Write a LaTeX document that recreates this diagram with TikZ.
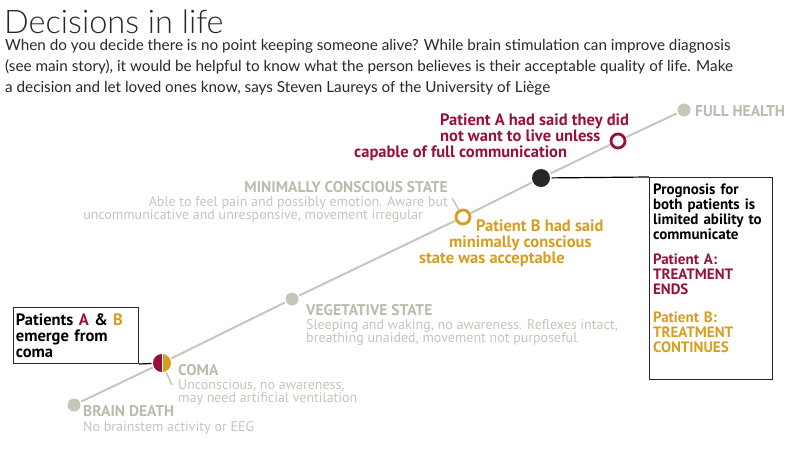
\documentclass[tikz,border=0pt]{standalone}
\usepackage{fontspec}
\setmainfont{Lato}
\newfontfamily\titlefont{Lato Light}
\newfontfamily\labelfont{PT Sans}
\usetikzlibrary{positioning}
\definecolor{acrimson}{RGB}{154,16,60}
\definecolor{bgold}{RGB}{214,158,30}
\definecolor{stategray}{RGB}{188,186,174}
\definecolor{descgray}{RGB}{198,196,186}
\definecolor{linegray}{RGB}{200,198,186}
\definecolor{bodygray}{RGB}{40,40,40}

\begin{document}
\begin{tikzpicture}[x=1pt, y=-1pt,
    stage/.style={circle, fill=linegray, minimum size=13pt, inner sep=0pt, outer sep=1.5pt},
    ring/.style={circle, draw=#1, line width=2.8pt, fill=white, minimum size=14pt, inner sep=0pt, outer sep=2pt},
    statetext/.style={font=\labelfont\fontsize{14}{13.5}\selectfont, text=descgray, inner sep=0pt},
    statename/.style={font=\labelfont\bfseries\fontsize{15.5}{14}\selectfont, text=stategray, inner sep=0pt},
    patienttext/.style={font=\labelfont\bfseries\fontsize{16.5}{15.8}\selectfont, text=#1, inner sep=0pt},
    boxtext/.style={font=\labelfont\bfseries\fontsize{15}{15}\selectfont, text=black, draw=black!85, line width=1.2pt, align=left}]
    \useasboundingbox (0,0) rectangle (800,469);

    \node[anchor=base west, inner sep=0pt, text=bodygray, font=\titlefont\fontsize{32.5}{34}\selectfont] (title) at (4,33) {Decisions in life};
    \node[anchor=north west, inner sep=0pt, text=bodygray, align=left, font=\fontsize{15.25}{21}\selectfont] (intro) at (5,39)
        {When do you decide there is no point keeping someone alive? While brain stimulation can improve diagnosis\\
         (see main story), it would be helpful to know what the person believes is their acceptable quality of life. Make\\
         a decision and let loved ones know, says Steven Laureys of the University of Li\`ege};

    \node[stage] (bd) at (74,405) {};
    \node[stage, minimum size=18pt] (coma) at (162,363) {};
    \node[stage] (veg) at (292,299) {};
    \node[ring=bgold] (pb) at (463,217) {};
    \node[circle, fill=black!85, minimum size=18pt, inner sep=0pt, outer sep=1.5pt] (prog) at (541,178) {};
    \node[ring=acrimson] (pa) at (618,141) {};
    \node[stage] (fh) at (684,110) {};

    \begin{scope}
        \clip (150,350) rectangle (162,376);
        \fill[acrimson] (coma.center) circle[radius=9pt];
    \end{scope}
    \begin{scope}
        \clip (162,350) rectangle (174,376);
        \fill[bgold] (coma.center) circle[radius=9pt];
    \end{scope}
    \draw[white, line width=0.8pt] (coma.north) -- (coma.south);

    \draw[linegray, line width=2pt] (bd) -- (coma) -- (veg) -- (pb) -- (prog) -- (pa) -- (fh);

    \node[statename, anchor=west] (fhname) at (695,111) {FULL HEALTH};
    \node[statetext, anchor=north east, align=right] (mcs) at (448,181)
        {{\fontsize{15.5}{14}\selectfont\bfseries\color{stategray}MINIMALLY CONSCIOUS STATE}\\[0.5pt]
         Able to feel pain and possibly emotion. Aware but\hspace*{3pt}\\
         uncommunicative and unresponsive, movement irregular\hspace*{25pt}};
    \node[statetext, anchor=north west, align=left] (vegname) at (306,304)
        {{\fontsize{15.5}{14}\selectfont\bfseries\color{stategray}VEGETATIVE STATE}\\[0.5pt]
         Sleeping and waking, no awareness. Reflexes intact,\\
         breathing unaided, movement not purposeful};
    \node[statetext, anchor=north west, align=left] (comaname) at (178,364)
        {{\fontsize{15.5}{14}\selectfont\bfseries\color{stategray}COMA}\\[0.5pt]
         Unconscious, no awareness,\\
         may need artificial ventilation};
    \node[statetext, anchor=north west, align=left] (bdname) at (83,405)
        {{\fontsize{15.5}{14}\selectfont\bfseries\color{stategray}BRAIN DEATH}\\[1.5pt]
         No brainstem activity or EEG};

    \coordinate (mcstick) at (452,198);
    \coordinate (comatick) at (172,385);
    \draw[linegray, line width=1.5pt] (pb) -- (mcstick);
    \draw[linegray, line width=1.5pt] (coma) -- (comatick);

    \node[patienttext=acrimson, anchor=north west, align=left] (patanote) at (354,114)
        {\hspace*{86pt}Patient A had said they did\\
         \hspace*{86pt}not want to live unless\\
         capable of full communication};
    \node[patienttext=bgold, anchor=north west, align=left] (patbnote) at (419,220)
        {\hspace*{57pt}Patient B had said\\
         \hspace*{30pt}minimally conscious\\
         state was acceptable};

    \node[boxtext, font=\labelfont\bfseries\fontsize{16.5}{16}\selectfont, anchor=south east, text width=120pt, minimum height=56pt, inner xsep=2.5pt, inner ysep=3pt] (emerge) at (139,364)
        {Patients \textcolor{acrimson}{A} \& \textcolor{bgold}{B}\\ emerge from\\ coma};
    \draw[black, line width=1.2pt] (emerge.south east) -- (coma);

    \node[boxtext, anchor=north west, text width=116pt, minimum height=196pt, inner xsep=3.5pt, inner ysep=6pt] (outcome) at (649,177)
        {Prognosis for\\ both patients is\\ limited ability to\\ communicate\\[10pt]
         \textcolor{acrimson}{Patient A:\\ TREATMENT\\ ENDS}\\[13pt]
         \textcolor{bgold}{Patient B:\\ TREATMENT\\ CONTINUES}\\[2pt]\strut};
    \draw[black, line width=1.2pt] (prog) -- (outcome.north west);
\end{tikzpicture}
\end{document}
